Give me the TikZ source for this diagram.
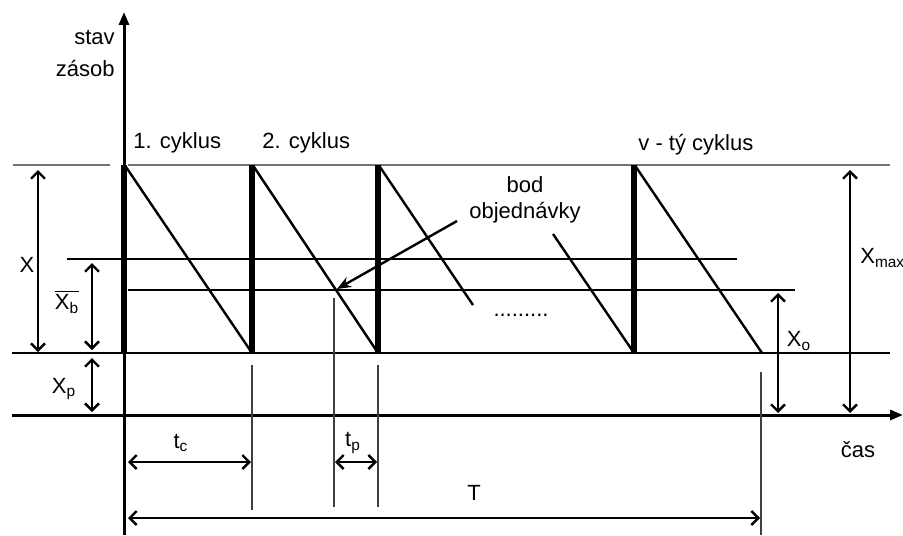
\documentclass[tikz,border=0pt]{standalone}
\usepackage{fontspec}
\setmainfont{Liberation Sans}
\usetikzlibrary{arrows.meta,positioning}

\begin{document}
\begin{tikzpicture}[
		x=0.5pt, y=-0.5pt,
		every node/.style={align=center, inner sep=1pt, font=\fontsize{11}{13}\selectfont},
		axis/.style={line width=1.5pt, -{Triangle[length=6.5pt,width=5pt]}},
		guide/.style={draw=black!55, line width=0.6pt},
		level/.style={draw=black, line width=0.8pt},
		refill/.style={line width=3pt},
		usage/.style={line width=1.2pt},
		tick/.style={draw=black!75, line width=0.6pt},
		dimline/.style={line width=1.2pt, {Straight Barb[length=3.5pt,width=7pt]}-{Straight Barb[length=3.5pt,width=7pt]}}
		]
		\useasboundingbox (0,0) rectangle (903,535);
		
		% axes
		\coordinate (ytop) at (124,12);
		\coordinate (ybot) at (124,535);
		\coordinate (xl) at (12,415);
		\coordinate (xr) at (903,415);
		\draw[axis] (ybot) -- (ytop);
		\draw[axis] (xl) -- (xr);
		
		% levels
		\draw[guide] (13,165) -- (110,165);
		\draw[guide] (128,165) -- (890,165);
		\draw[level] (67,259) -- (737,259);
		\draw[level] (128,290) -- (795,290);
		\draw[level] (12,353) -- (890,353);
		
		% sawtooth
		\foreach \x/\y in {124/252, 252/378, 634/762} {
			\draw[refill] (\x,165) -- (\x,353);
			\draw[usage] (\x+2,167) -- (\y,353);
		}
		\draw[refill] (378,165) -- (378,353);
		\draw[usage] (380,167) -- (473,305);
		\draw[usage] (553,234) -- (634,353);
		\node (dots) at (521,315) {.........};
		
		% time ticks
		\draw[tick] (252,365) -- (252,510);
		\draw[tick] (334,298) -- (334,507);
		\draw[tick] (378,365) -- (378,507);
		\draw[tick] (761,372) -- (761,535);
		
		% texts
		\node[anchor=east, align=right, font=\fontsize{11}{16}\selectfont] (stav) at (117,53) {stav\\zásob};
		\node[anchor=west] (c1) at (131,143) {1. cyklus};
		\node[anchor=west] (c2) at (260,143) {2. cyklus};
		\node[anchor=west] (cv) at (636,145) {v - tý cyklus};
		\node (bod) at (525,200) {bod\\objednávky};
		\node (cas) at (858,450) {čas};
		
		% order point
		\coordinate (bodtail) at (457,221);
		\coordinate (orderpt) at (337,289);
		\draw[line width=1.2pt, -{Stealth[length=7pt,width=5.5pt]}] (bodtail) -- (orderpt);
		
		% dimensions
		\draw[dimline] (38,170) -- (38,352);
		\node (lX) at (27,265) {X};
		\draw[dimline] (92,263) -- (92,350);
		\node (lxb) at (67,302) {$\overline{\mbox{X\textsubscript{b}}}$};
		\draw[dimline] (92,358) -- (92,412);
		\node (lxp) at (64,389) {X\textsubscript{p}};
		\draw[dimline] (778,293) -- (778,413);
		\node (lxo) at (799,341) {X\textsubscript{o}};
		\draw[dimline] (850,170) -- (850,413);
		\node[anchor=west] (lxmax) at (858,258) {X\textsubscript{max}};
		\draw[dimline] (128,462) -- (251,462);
		\node (ltc) at (181,443) {t\textsubscript{c}};
		\draw[dimline] (335,462) -- (377,462);
		\node (ltp) at (353,443) {t\textsubscript{p}};
		\draw[dimline] (128,518) -- (760,518);
		\node (lT) at (474,493) {T};
		
	\end{tikzpicture}
\end{document}
